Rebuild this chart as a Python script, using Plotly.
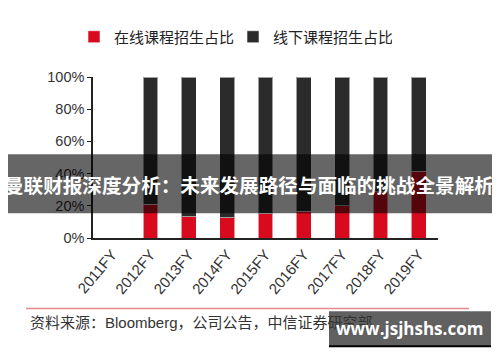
import plotly.graph_objects as go

years = ["2011FY", "2012FY", "2013FY", "2014FY", "2015FY", "2016FY", "2017FY", "2018FY", "2019FY"]
online = [None, 21.0, 13.3, 12.7, 15.0, 16.6, 19.9, 28.8, 41.4]
offline = [None if v is None else round(100 - v, 1) for v in online]
online_name = "在线课程招生占比"
offline_name = "线下课程招生占比"
y_ticks = [0, 20, 40, 60, 80, 100]
y_tick_labels = ["0%", "20%", "40%", "60%", "80%", "100%"]
banner_text = "曼联财报深度分析：未来发展路径与面临的挑战全景解析"
source_text = "资料来源：Bloomberg，公司公告，中信证券研究部"
watermark_text = "www.jsjhshs.com"

OFF = 8  # page body margin
W, H = 500, 362
# plot area in page pixels: left 93, right 438, top 69, bottom 238
L = 93 - OFF
T = 69 - OFF
R = W - (438 - OFF)
B = H - (238 - OFF)
PH = H - T - B
PW = W - L - R

def py(p):
    return ((238 - OFF) - (p - OFF)) / PH

def px(p):
    return ((p - OFF) - L) / PW

RED = "#d70a1e"
BLACK = "#2b2b2b"

fig = go.Figure()
fig.add_trace(go.Bar(x=years, y=online, name=online_name,
                     marker=dict(color=RED, line=dict(color="rgba(255,255,255,0.55)", width=1)), width=0.39))
fig.add_trace(go.Bar(x=years, y=offline, name=offline_name,
                     marker=dict(color=BLACK, line=dict(color="rgba(255,255,255,0.55)", width=1)), width=0.39))

fig.update_layout(
    barmode="stack",
    width=W, height=H,
    margin=dict(l=L, r=R, t=T, b=B),
    paper_bgcolor="white", plot_bgcolor="white",
    font=dict(family="Liberation Sans, Noto Sans CJK SC, sans-serif", color="#333"),
    showlegend=True,
    legend=dict(orientation="h", x=px(74), xanchor="left", y=py(27), yanchor="middle",
                font=dict(size=15, family="Noto Sans CJK SC, sans-serif", color="#222"),
                itemwidth=30, entrywidth=114, entrywidthmode="pixels",
                traceorder="normal", bgcolor="rgba(0,0,0,0)"),
    xaxis=dict(showline=True, linecolor="#222", linewidth=1.5, ticks="", tickangle=-50,
               tickfont=dict(size=15, color="#333"), range=[-0.5, 8.5], showgrid=False),
    yaxis=dict(showline=True, linecolor="#222", linewidth=1.5, ticks="outside", ticklen=4,
               tickcolor="#222", tickvals=y_ticks, ticktext=y_tick_labels, range=[0, 100],
               tickfont=dict(size=14.5, color="#333"), showgrid=False, zeroline=False),
)

shapes = [
    dict(type="rect", xref="paper", yref="paper", x0=px(-20), x1=px(W + 20), y0=py(212), y1=py(150),
         fillcolor="rgba(0,0,0,0.6)", line=dict(width=0), layer="above"),
    dict(type="line", xref="paper", yref="paper", x0=px(26), x1=px(469), y0=py(312), y1=py(312),
         line=dict(color="rgba(215,40,50,0.55)", width=1.5)),
    dict(type="rect", xref="paper", yref="paper", x0=px(329), x1=px(491), y0=py(352), y1=py(315),
         fillcolor="rgba(85,85,85,0.93)", line=dict(width=0), layer="above"),
    dict(type="line", xref="paper", yref="paper", x0=px(329), x1=px(491), y0=py(351.5), y1=py(351.5),
         line=dict(color="#000", width=2)),
]
fig.update_layout(shapes=shapes)

fig.add_annotation(xref="paper", yref="paper", x=px(249), y=py(182), text="<b>" + banner_text + "</b>",
                   showarrow=False, font=dict(size=19.6, color="white", family="Noto Sans CJK SC, sans-serif"),
                   xanchor="center", yanchor="middle")
fig.add_annotation(xref="paper", yref="paper", x=px(28), y=py(327), text=source_text,
                   showarrow=False, font=dict(size=15, color="#333", family="Liberation Sans, Noto Sans CJK SC, sans-serif"),
                   xanchor="left", yanchor="middle")
fig.add_annotation(xref="paper", yref="paper", x=px(409), y=py(333), text="<b>" + watermark_text + "</b>",
                   showarrow=False, font=dict(size=17, color="white", family="Open Sans, sans-serif"),
                   xanchor="center", yanchor="middle")

fig.write_html("out.html")
